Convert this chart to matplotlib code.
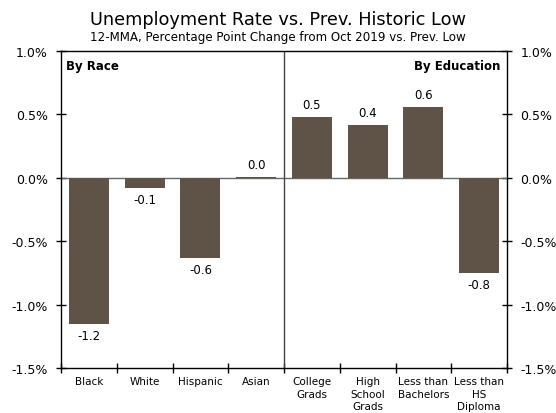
import matplotlib
matplotlib.use("Agg")
import matplotlib.pyplot as plt
from matplotlib.ticker import FuncFormatter, MultipleLocator

categories = ["Black", "White", "Hispanic", "Asian", "College\nGrads",
              "High\nSchool\nGrads", "Less than\nBachelors", "Less than\nHS\nDiploma"]
values = [-1.15, -0.08, -0.63, 0.01, 0.48, 0.42, 0.56, -0.75]
value_labels = ["-1.2", "-0.1", "-0.6", "0.0", "0.5", "0.4", "0.6", "-0.8"]
title = "Unemployment Rate vs. Prev. Historic Low"
subtitle = "12-MMA, Percentage Point Change from Oct 2019 vs. Prev. Low"

plt.rcParams['font.family'] = ['DejaVu Sans']
fig = plt.figure(figsize=(5.56, 4.14), dpi=100)
L, R, T, B = 61, 507, 52, 369
ax = fig.add_axes([L/556, 1-B/414, (R-L)/556, (B-T)/414])

bar_color = "#5e5346"
x = list(range(len(categories)))
ax.bar(x, values, width=0.72, color=bar_color, zorder=3)
for xi, v, lab in zip(x, values, value_labels):
    if v >= 0:
        ax.annotate(lab, (xi, v), xytext=(0, 4), textcoords="offset points",
                    ha="center", va="bottom", fontsize=8.5)
    else:
        ax.annotate(lab, (xi, v), xytext=(0, -4), textcoords="offset points",
                    ha="center", va="top", fontsize=8.5)

ax.set_xlim(-0.5, len(categories) - 0.5)
ax.set_ylim(-1.5, 1.0)
ax.axhline(0, color="#666666", lw=1, zorder=2)
ax.axvline(3.5, color="#444444", lw=1, zorder=2)

ax.yaxis.set_major_locator(MultipleLocator(0.5))
ax.yaxis.set_major_formatter(FuncFormatter(lambda v, p: f"{v:.1f}%"))
ax.tick_params(axis="y", which="both", direction="inout", length=7, width=1,
               labelsize=9, left=True, right=True, labelleft=True, labelright=True, pad=6)
ax.set_xticks(x)
ax.set_xticklabels(categories, fontsize=7.5, linespacing=1.3)
ax.set_xticks([i + 0.5 for i in range(-1, len(categories))], minor=True)
ax.tick_params(axis="x", which="major", length=0, pad=6)
ax.tick_params(axis="x", which="minor", direction="inout", length=7, width=1)

for s in ax.spines.values():
    s.set_color("black")
    s.set_linewidth(1)

ax.text(0.012, 0.975, "By Race", transform=ax.transAxes, ha="left", va="top",
        fontsize=8.5, fontweight="bold")
ax.text(0.985, 0.975, "By Education", transform=ax.transAxes, ha="right", va="top",
        fontsize=8.5, fontweight="bold")

fig.text(0.5, 1-20/414, title, ha="center", va="center", fontsize=12.8)
fig.text(0.5, 1-37/414, subtitle, ha="center", va="center", fontsize=8.6)

fig.savefig("out.png", dpi=100)
